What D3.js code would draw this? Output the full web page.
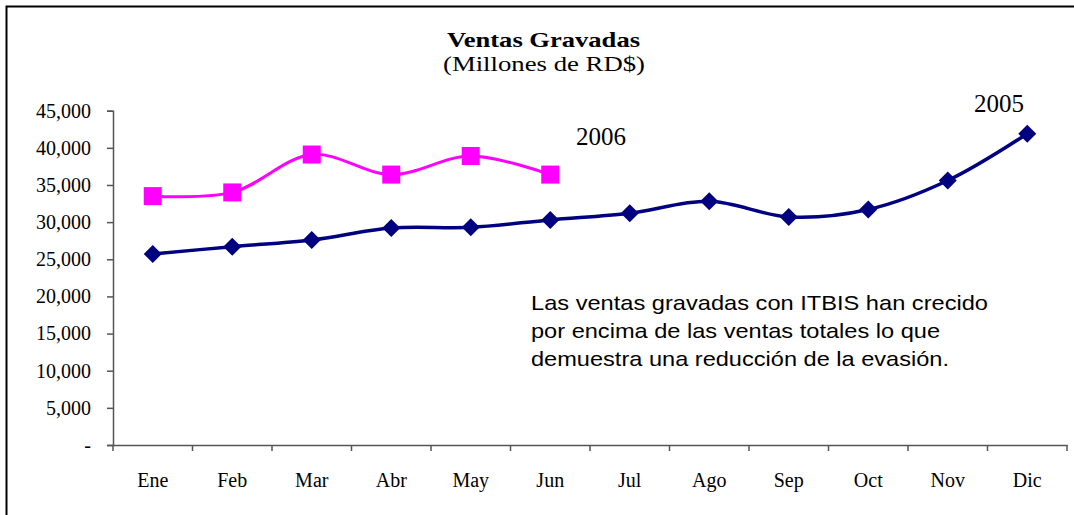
<!DOCTYPE html>
<html><head><meta charset="utf-8">
<script src="https://cdn.jsdelivr.net/npm/d3@7"></script>
<style>body{margin:0;background:#fff}svg{display:block}</style>
</head><body><svg id="c" width="1074" height="515"></svg>
<script>
const months = ["Ene","Feb","Mar","Abr","May","Jun","Jul","Ago","Sep","Oct","Nov","Dic"];
const sales2005 = [25700,26700,27600,29200,29300,30300,31200,32800,30700,31700,35600,41900];
const sales2006 = [33500,34000,39100,36400,38900,36400];
const yTicks = [0,5000,10000,15000,20000,25000,30000,35000,40000,45000];
const title = "Ventas Gravadas";
const subtitle = "(Millones de RD$)";
const note = ["Las ventas gravadas con ITBIS han crecido","por encima de las ventas totales lo que","demuestra una reducción de la evasión."];
const noteWidths = [457,409,418];

const svg = d3.select("#c");
const serif = "'Liberation Serif','Times New Roman',serif";
const sans = "'Liberation Sans',Arial,sans-serif";

// frame
svg.append("path").attr("d","M6.5,520V6.5H1080").attr("fill","none").attr("stroke","#000").attr("stroke-width",2);

const L=113, R=1067, T=110.7, B=445;
const x = d3.scaleBand().domain(months).range([L,R]);
const y = d3.scaleLinear().domain([0,45000]).range([B,T]);

// title
svg.append("text").attr("x",447).attr("y",47)
  .attr("font-family",serif).attr("font-weight","bold").attr("font-size",22)
  .attr("textLength",193).attr("lengthAdjust","spacingAndGlyphs").text(title);
svg.append("text").attr("x",443).attr("y",71)
  .attr("font-family",serif).attr("font-size",22)
  .attr("textLength",202).attr("lengthAdjust","spacingAndGlyphs").text(subtitle);

// y axis
const ya = svg.append("g").attr("transform",`translate(${L},0)`)
  .call(d3.axisLeft(y).tickValues(yTicks).tickSize(6).tickPadding(16)
    .tickFormat(d=> d===0 ? "-" : d3.format(",")(d)));
ya.select(".domain").attr("stroke","#555").attr("stroke-width",1.5);
ya.selectAll(".tick line").attr("stroke","#555").attr("stroke-width",1.5);
ya.selectAll("text").attr("font-family",serif).attr("font-size",20).attr("fill","#000");

// x axis
const xa = svg.append("g").attr("transform",`translate(0,${B})`)
  .call(d3.axisBottom(x).tickSize(0).tickPadding(28));
xa.select(".domain").attr("stroke","#555").attr("stroke-width",1.5);
xa.selectAll("text").attr("font-family",serif).attr("font-size",20).attr("fill","#000");
// tick marks between categories
svg.append("g").selectAll("line").data(months.map(m=>x(m)).concat([R]))
  .join("line").attr("x1",d=>d).attr("x2",d=>d).attr("y1",B).attr("y2",B+6)
  .attr("stroke","#555").attr("stroke-width",1.5);

const cx = i => x(months[i]) + x.bandwidth()/2;
const line = d3.line().x((d,i)=>cx(i)).y(d=>y(d)).curve(d3.curveCatmullRom.alpha(0.5));

// 2006 series
svg.append("path").attr("d",line(sales2006)).attr("fill","none").attr("stroke","#FF00FF").attr("stroke-width",3);
svg.append("g").selectAll("rect").data(sales2006).join("rect")
  .attr("x",(d,i)=>cx(i)-9).attr("y",d=>y(d)-9).attr("width",18).attr("height",18).attr("fill","#FF00FF");

// 2005 series
svg.append("path").attr("d",line(sales2005)).attr("fill","none").attr("stroke","#000080").attr("stroke-width",3.5);
svg.append("g").selectAll("path").data(sales2005).join("path")
  .attr("d",(d,i)=>{const a=cx(i), b=y(d); return `M${a},${b-9}L${a+9},${b}L${a},${b+9}L${a-9},${b}Z`;})
  .attr("fill","#000080");

// series labels
svg.append("text").attr("x",999).attr("y",112).attr("text-anchor","middle")
  .attr("font-family",serif).attr("font-size",25).text("2005");
svg.append("text").attr("x",601).attr("y",145).attr("text-anchor","middle")
  .attr("font-family",serif).attr("font-size",25).text("2006");

// annotation
svg.append("g").selectAll("text").data(note).join("text")
  .attr("x",531).attr("y",(d,i)=>310+i*28)
  .attr("font-family",sans).attr("font-size",21)
  .attr("textLength",(d,i)=>noteWidths[i]).attr("lengthAdjust","spacingAndGlyphs").text(d=>d);
</script></body></html>
